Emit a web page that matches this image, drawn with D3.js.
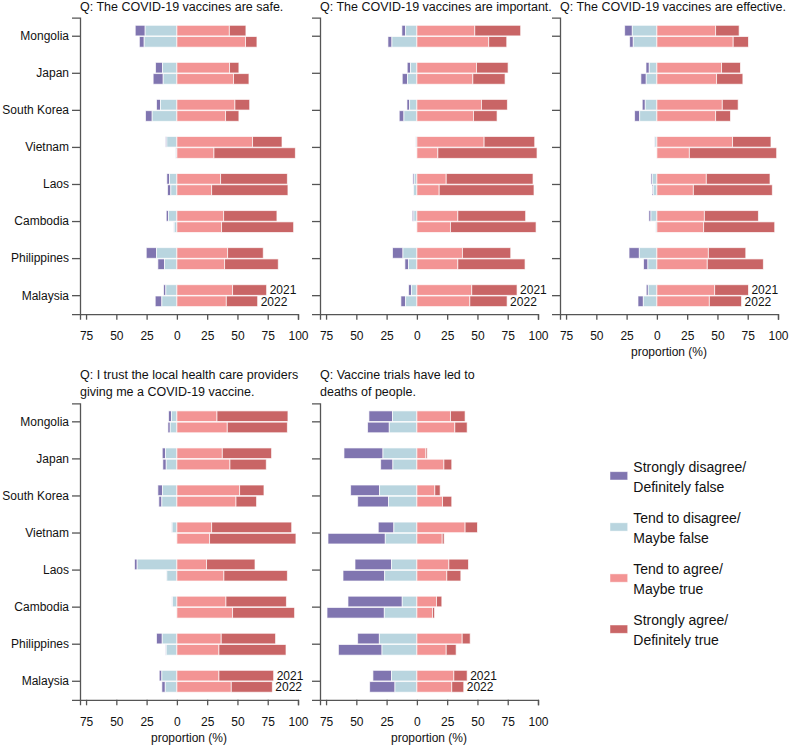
<!DOCTYPE html>
<html><head><meta charset="utf-8">
<script src="https://cdn.jsdelivr.net/npm/d3@7"></script>
<style>
body{margin:0;background:#fff;}
svg{display:block;font-family:"Liberation Sans",Arial,sans-serif;}
</style></head>
<body><svg id="c" width="789" height="746"></svg>
<script>
const countries = ["Mongolia","Japan","South Korea","Vietnam","Laos","Cambodia","Philippines","Malaysia"];
const years = ["2021","2022"];
const responseLabels = [
  ["Strongly disagree/","Definitely false"],
  ["Tend to disagree/","Maybe false"],
  ["Tend to agree/","Maybe true"],
  ["Strongly agree/","Definitely true"]
];
const colors = ["#8075b0","#b9d5df","#f39494","#c96566"];
const xTicks = [-75,-50,-25,0,25,50,75,100];

// values per row: [strongly disagree, tend to disagree, tend to agree, strongly agree]; rows: country x (2021, 2022)
const safe = [
  [8.2,26.2,43.3,13.7],[4.0,27.0,56.7,9.4],
  [5.8,11.8,43.5,7.7],[8.3,11.3,46.8,12.7],
  [3.3,13.5,47.9,12.2],[5.5,20.4,40.2,11.0],
  [1.1,8.3,62.5,24.3],[0.3,0.8,30.6,67.2],
  [2.2,6.1,36.1,55.1],[2.7,5.0,28.7,63.0],
  [1.9,6.9,38.6,44.0],[0.3,2.2,36.9,59.5],
  [8.5,16.8,41.9,29.4],[5.5,10.2,39.4,44.3],
  [1.9,9.1,46.0,28.1],[5.5,12.4,40.8,25.9]
];
const important = [
  [3.1,9.3,47.8,37.9],[3.3,20.6,59.3,14.9],
  [2.8,5.2,49.2,26.1],[4.4,7.7,46.2,26.6],
  [2.2,6.0,53.3,21.4],[3.9,10.7,46.7,19.5],
  [0.2,1.1,55.5,41.8],[0,0.3,17.3,81.9],
  [1.1,2.2,24.2,71.7],[0.3,2.7,18.4,78.3],
  [1.3,2.5,33.8,56.0],[0,0.3,27.7,70.7],
  [8.6,11.5,37.6,39.9],[3.0,6.9,33.8,55.5],
  [2.5,4.4,45.3,37.4],[3.9,9.3,43.7,30.8]
];
const effective = [
  [6.3,20.3,48.5,19.4],[3.0,19.5,63.0,12.6],
  [2.7,6.3,53.4,15.6],[4.4,8.8,49.3,21.7],
  [2.5,9.6,54.0,13.1],[4.2,14.2,48.5,12.3],
  [0.3,1.6,62.5,31.7],[0,0.3,26.8,72.1],
  [1.1,3.8,40.8,52.6],[0.8,3.0,30.1,65.2],
  [1.7,4.9,39.2,44.6],[0,1.1,38.6,58.7],
  [8.5,14.5,42.5,30.9],[3.6,7.4,41.6,46.3],
  [1.7,7.1,47.7,27.9],[4.4,11.2,43.3,26.6]
];
const trust = [
  [2.5,4.4,33.1,58.6],[1.9,5.5,41.6,49.6],
  [2.7,9.4,37.5,40.7],[2.8,8.8,43.8,30.0],
  [3.9,11.8,51.8,20.1],[2.5,12.4,48.8,17.0],
  [0.3,3.9,28.7,66.1],[0,0.3,27.0,71.3],
  [2.2,32.8,24.5,40.0],[0.3,8.3,38.8,52.4],
  [0.5,3.6,40.5,49.9],[0,0.5,46.0,51.2],
  [4.7,12.1,36.6,44.9],[0.5,8.8,34.7,55.4],
  [2.2,12.4,34.7,45.2],[2.8,9.6,44.9,33.9]
];
const trials = [
  [19.5,20.1,27.7,12.1],[17.9,22.8,31.3,10.2],
  [32.2,28.0,7.4,1.1],[10.1,19.8,22.3,6.5],
  [23.9,30.8,14.8,4.4],[25.5,23.4,21.2,7.6],
  [12.9,19.0,39.8,10.2],[47.3,26.1,20.9,1.6],
  [30.2,20.9,26.4,16.2],[34.4,26.6,24.7,11.6],
  [44.8,12.1,16.2,4.4],[47.3,26.9,12.9,1.7],
  [17.9,31.0,37.4,6.6],[36.0,28.8,24.2,8.2],
  [15.4,20.9,30.5,11.0],[20.9,18.1,28.8,9.9]
];

const panels = [
  {title:["Q: The COVID-19 vaccines are safe."], data:safe, x0:80, top:17.7, titleY:11, names:true, xlab:false},
  {title:["Q: The COVID-19 vaccines are important."], data:important, x0:320, top:17.7, titleY:11, names:false, xlab:false},
  {title:["Q: The COVID-19 vaccines are effective."], data:effective, x0:560, top:17.7, titleY:11, names:false, xlab:true},
  {title:["Q: I trust the local health care providers","giving me a COVID-19 vaccine."], data:trust, x0:80, top:403.3, titleY:379, names:true, xlab:true},
  {title:["Q: Vaccine trials have led to","deaths of people."], data:trials, x0:320, top:403.3, titleY:379, names:false, xlab:true}
];

const svg = d3.select("#c");
const W = 218, H = 296.5;
const axisColor = "#555";

panels.forEach(p => {
  const g = svg.append("g");
  const x = d3.scaleLinear().domain([-80,100]).range([p.x0, p.x0 + W]);
  const y = d3.scaleBand().domain(countries).range([p.top, p.top + H]).paddingInner(0.41).paddingOuter(0.205);
  const yy = d3.scaleBand().domain(years).range([0, y.bandwidth()]).paddingInner(0.06);

  // title
  p.title.forEach((t,i) => {
    g.append("text").attr("x", p.x0).attr("y", p.titleY + i*17)
      .attr("font-size", 12.5).attr("fill", "#111").text(t);
  });

  // bars
  const rows = [];
  countries.forEach((c,ci) => years.forEach((yr,yi) => {
    const v = p.data[ci*2 + yi];
    const [sd, td, ta, sa] = v;
    const segs = [[-(td+sd), -td], [-td, 0], [0, ta], [ta, ta+sa]];
    segs.forEach((s,k) => { if (s[1] - s[0] > 0) rows.push({c, yr, k, x1:s[0], x2:s[1]}); });
  }));
  g.append("g").selectAll("rect").data(rows).join("rect")
    .attr("x", d => x(d.x1)).attr("width", d => x(d.x2) - x(d.x1))
    .attr("y", d => y(d.c) + yy(d.yr)).attr("height", yy.bandwidth())
    .attr("fill", d => colors[d.k])
    .attr("stroke", "#fff").attr("stroke-opacity", 0.75).attr("stroke-width", 0.9);

  // year labels at Malaysia
  const last = countries.length - 1;
  years.forEach((yr, yi) => {
    const v = p.data[last*2 + yi];
    g.append("text").attr("x", x(v[2] + v[3]) + 3)
      .attr("y", y(countries[last]) + yy(yr) + yy.bandwidth()/2)
      .attr("dy", "0.36em").attr("font-size", 12).attr("fill", "#111").text(yr);
  });

  // x axis
  const xa = g.append("g").attr("transform", `translate(0,${p.top + H})`)
    .call(d3.axisBottom(x).tickValues(xTicks).tickFormat(d => Math.abs(d)).tickSizeOuter(0).tickSize(5.5).tickPadding(12));
  xa.select(".domain").attr("stroke", axisColor).attr("stroke-width", 1.3);
  xa.selectAll(".tick line").attr("stroke", axisColor).attr("stroke-width", 1.3);
  xa.selectAll(".tick text").attr("font-size", 12).attr("fill", "#111").attr("font-family", null);

  // y axis
  const ya = g.append("g").attr("transform", `translate(${p.x0},0)`)
    .call(d3.axisLeft(y).tickSizeOuter(0).tickSize(8).tickPadding(3).tickFormat(d => p.names ? d : ""));
  ya.select(".domain").attr("stroke", axisColor).attr("stroke-width", 1.3);
  ya.selectAll(".tick line").attr("stroke", axisColor).attr("stroke-width", 1.3);
  ya.selectAll(".tick text").attr("font-size", 12).attr("fill", "#111").attr("font-family", null);

  if (p.xlab) {
    g.append("text").attr("x", p.x0 + W/2).attr("y", p.top + H + 42)
      .attr("text-anchor", "middle").attr("font-size", 12).attr("fill", "#111").text("proportion (%)");
  }
});

// legend
const lg = svg.append("g");
responseLabels.forEach((lab, i) => {
  const by = 471.7 + i*51.1;
  lg.append("rect").attr("x", 610).attr("y", by).attr("width", 17.7).attr("height", 8.3)
    .attr("fill", colors[i]).attr("stroke", "#fff").attr("stroke-opacity", 0.6).attr("stroke-width", 0.8);
  lab.forEach((t, j) => {
    lg.append("text").attr("x", 633.3).attr("y", by + j*20).attr("font-size", 14).attr("fill", "#111").text(t);
  });
});
</script>
</body></html>
